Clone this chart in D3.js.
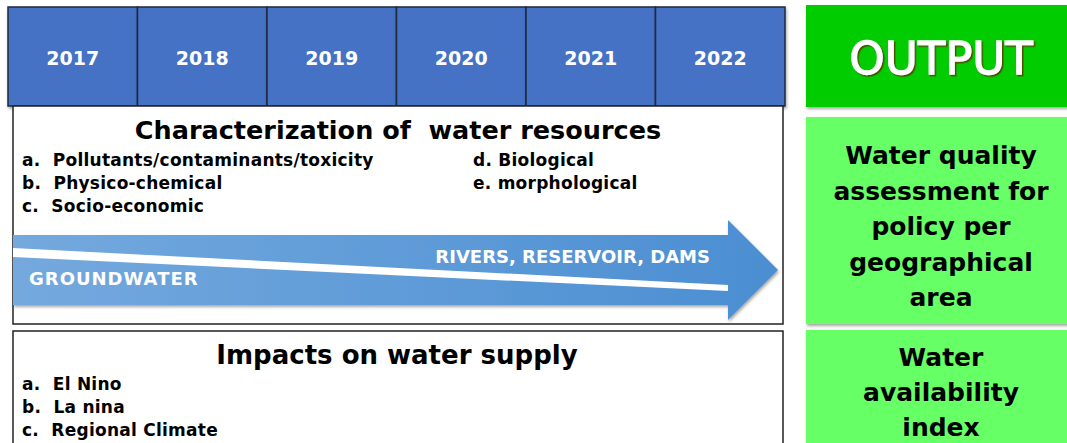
<!DOCTYPE html>
<html lang="en">
<head>
    <meta charset="UTF-8">
    <title>Water resources timeline</title>
    <script src="https://d3js.org/d3.v7.min.js"></script>
    <style>
        body { margin: 0; background: #fff; }
        text { font-family: "DejaVu Sans", sans-serif; }
    </style>
</head>
<body>
    <svg id="chart" width="1067" height="443"></svg>

    <script>
        const years = ["2017", "2018", "2019", "2020", "2021", "2022"];
        const charTitle = "Characterization of  water resources";
        const charItemsLeft = ["a.  Pollutants/contaminants/toxicity", "b.  Physico-chemical", "c.  Socio-economic"];
        const charItemsRight = ["d. Biological", "e. morphological"];
        const arrowLabels = ["RIVERS, RESERVOIR, DAMS", "GROUNDWATER"];
        const impactTitle = "Impacts on water supply";
        const impactItems = ["a.  El Nino", "b.  La nina", "c.  Regional Climate"];
        const outputTitle = "OUTPUT";
        const outputQuality = ["Water quality", "assessment for", "policy per", "geographical", "area"];
        const outputAvail = ["Water", "availability", "index"];

        const svg = d3.select("#chart");

        const defs = svg.append("defs");
        const grad = defs.append("linearGradient").attr("id", "arrowGrad")
            .attr("x1", "0%").attr("x2", "100%");
        grad.append("stop").attr("offset", "0%").attr("stop-color", "#74a9de");
        grad.append("stop").attr("offset", "100%").attr("stop-color", "#4b8ed2");
        const shadow = defs.append("filter").attr("id", "shadow")
            .attr("x", "-5%").attr("y", "-5%").attr("width", "115%").attr("height", "130%");
        shadow.append("feDropShadow").attr("dx", 1).attr("dy", 2).attr("stdDeviation", 1.5)
            .attr("flood-color", "#000").attr("flood-opacity", 0.35);
        const txtShadow = defs.append("filter").attr("id", "txtShadow");
        txtShadow.append("feDropShadow").attr("dx", 1.5).attr("dy", 1.5).attr("stdDeviation", 0.6)
            .attr("flood-color", "#5a3d00").attr("flood-opacity", 0.9);

        // year header
        const x = d3.scaleBand().domain(years).range([8, 785]);
        const header = svg.append("g");
        header.selectAll("rect")
            .data(years)
            .enter().append("rect")
            .attr("x", d => x(d))
            .attr("y", 7)
            .attr("width", x.bandwidth())
            .attr("height", 99)
            .attr("fill", "#4472c4")
            .attr("stroke", "#1f2a3c")
            .attr("stroke-width", 1.5)
            .attr("filter", "url(#shadow)");
        header.selectAll("text")
            .data(years)
            .enter().append("text")
            .attr("x", d => x(d) + x.bandwidth() / 2)
            .attr("y", 65)
            .attr("text-anchor", "middle")
            .attr("fill", "#fff")
            .attr("font-weight", "bold")
            .attr("font-size", 19)
            .text(d => d);

        // characterization box
        svg.append("rect")
            .attr("x", 13).attr("y", 106).attr("width", 770).attr("height", 218)
            .attr("fill", "#fff").attr("stroke", "#222").attr("stroke-width", 1.5);
        svg.append("text")
            .attr("x", 398).attr("y", 139)
            .attr("text-anchor", "middle")
            .attr("font-size", 25.5).attr("font-weight", "bold")
            .style("white-space", "pre")
            .text(charTitle);
        const lineY = d3.scalePoint().domain(d3.range(3)).range([166, 212]);
        svg.append("g").selectAll("text")
            .data(charItemsLeft)
            .enter().append("text")
            .attr("x", 22)
            .attr("y", (d, i) => lineY(i))
            .attr("font-size", 17).attr("font-weight", "bold")
            .attr("letter-spacing", 0.25)
            .style("white-space", "pre")
            .text(d => d);
        svg.append("g").selectAll("text")
            .data(charItemsRight)
            .enter().append("text")
            .attr("x", 473)
            .attr("y", (d, i) => lineY(i))
            .attr("font-size", 17).attr("font-weight", "bold")
            .attr("letter-spacing", 0.25)
            .text(d => d);

        // arrow
        const arrowPath = d3.path();
        arrowPath.moveTo(13, 235);
        arrowPath.lineTo(728, 235);
        arrowPath.lineTo(728, 220);
        arrowPath.lineTo(778, 270);
        arrowPath.lineTo(728, 320);
        arrowPath.lineTo(728, 305);
        arrowPath.lineTo(13, 305);
        arrowPath.closePath();
        svg.append("path")
            .attr("d", arrowPath.toString())
            .attr("fill", "url(#arrowGrad)")
            .attr("filter", "url(#shadow)");
        const band = d3.path();
        band.moveTo(13, 248);
        band.lineTo(728, 285);
        band.lineTo(728, 291);
        band.lineTo(13, 257);
        band.closePath();
        svg.append("path").attr("d", band.toString()).attr("fill", "#fff");
        svg.append("text")
            .attr("x", 710).attr("y", 263)
            .attr("text-anchor", "end")
            .attr("fill", "#fff").attr("font-size", 18).attr("font-weight", "bold")
            .text(arrowLabels[0]);
        svg.append("text")
            .attr("x", 29).attr("y", 285)
            .attr("fill", "#fff").attr("font-size", 18).attr("font-weight", "bold")
            .attr("letter-spacing", 1)
            .text(arrowLabels[1]);

        // impacts box
        svg.append("rect")
            .attr("x", 13).attr("y", 331).attr("width", 770).attr("height", 130)
            .attr("fill", "#fff").attr("stroke", "#222").attr("stroke-width", 1.5);
        svg.append("text")
            .attr("x", 397).attr("y", 364)
            .attr("text-anchor", "middle")
            .attr("font-size", 26).attr("font-weight", "bold")
            .text(impactTitle);
        const impY = d3.scalePoint().domain(d3.range(3)).range([390, 436]);
        svg.append("g").selectAll("text")
            .data(impactItems)
            .enter().append("text")
            .attr("x", 22)
            .attr("y", (d, i) => impY(i))
            .attr("font-size", 17).attr("font-weight", "bold")
            .attr("letter-spacing", 0.25)
            .style("white-space", "pre")
            .text(d => d);

        // output column
        svg.append("rect")
            .attr("x", 806).attr("y", 5).attr("width", 270).attr("height", 102)
            .attr("fill", "#00cc00").attr("filter", "url(#shadow)");
        svg.append("text")
            .attr("x", 941).attr("y", 74)
            .attr("text-anchor", "middle")
            .attr("fill", "#fff").attr("font-size", 45)
            .attr("stroke", "#fff").attr("stroke-width", 1.3)
            .attr("filter", "url(#txtShadow)")
            .text(outputTitle);

        svg.append("rect")
            .attr("x", 806).attr("y", 117).attr("width", 270).attr("height", 207)
            .attr("fill", "#66ff66").attr("filter", "url(#shadow)");
        const qY = d3.scalePoint().domain(d3.range(outputQuality.length)).range([164, 306]);
        svg.append("g").selectAll("text")
            .data(outputQuality)
            .enter().append("text")
            .attr("x", 941)
            .attr("y", (d, i) => qY(i))
            .attr("text-anchor", "middle")
            .attr("font-size", 25).attr("font-weight", "bold")
            .text(d => d);

        svg.append("rect")
            .attr("x", 806).attr("y", 330).attr("width", 270).attr("height", 130)
            .attr("fill", "#66ff66").attr("filter", "url(#shadow)");
        const aY = d3.scalePoint().domain(d3.range(outputAvail.length)).range([366, 436]);
        svg.append("g").selectAll("text")
            .data(outputAvail)
            .enter().append("text")
            .attr("x", 941)
            .attr("y", (d, i) => aY(i))
            .attr("text-anchor", "middle")
            .attr("font-size", 25).attr("font-weight", "bold")
            .text(d => d);
    </script>
</body>
</html>
